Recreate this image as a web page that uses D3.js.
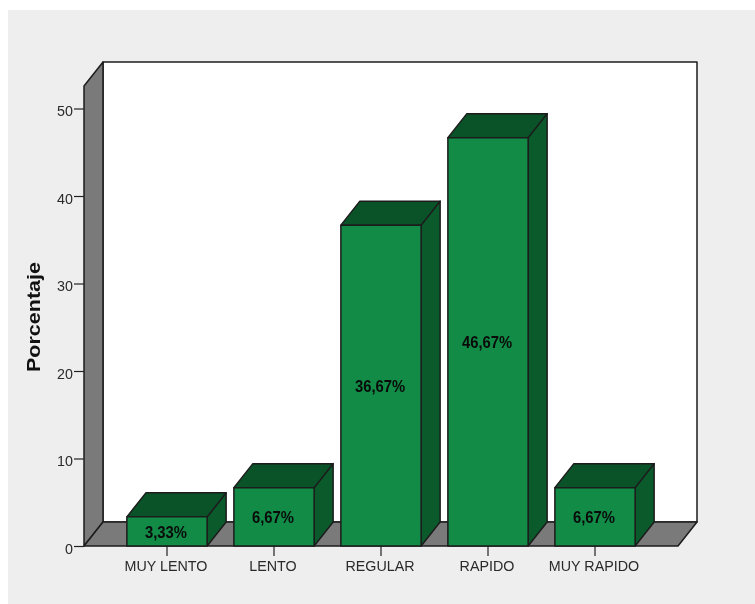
<!DOCTYPE html>
<html>
<head>
<meta charset="utf-8">
<script src="https://d3js.org/d3.v7.min.js"></script>
<style>
  html, body { margin: 0; padding: 0; background: #fff; }
  svg { display: block; filter: blur(0.35px); }
  .tick text { font-family: "Liberation Sans", Arial, sans-serif; font-size: 14.3px; fill: #2a2a2a; }
</style>
</head>
<body>
<div id="chart"></div>
<script>
// data
var categories = ["MUY LENTO", "LENTO", "REGULAR", "RAPIDO", "MUY RAPIDO"];
var percentages = [3.33, 6.67, 36.67, 46.67, 6.67];
var valueLabels = ["3,33%", "6,67%", "36,67%", "46,67%", "6,67%"];
var yTicks = [0, 10, 20, 30, 40, 50];

var width = 755, height = 604;
var plot = {left: 84, right: 678, bottom: 546, top: 86};
var depthX = 19, depthY = 24;       // shift of the back plane

var svg = d3.select("#chart")
  .append("svg")
    .attr("width", width)
    .attr("height", height);

// grey panel
svg.append("rect")
  .attr("x", 8)
  .attr("y", 10)
  .attr("width", width - 8)
  .attr("height", height - 10)
  .attr("fill", "#eeeeee");

var x = d3.scaleBand()
  .domain(categories)
  .range([113.5, 648.5])
  .paddingInner(0.25)
  .paddingOuter(0.125);

var y = d3.scaleLinear()
  .domain([0, 50])
  .range([plot.bottom, 108.5]);

function poly(points, fill) {
  svg.append("polygon")
    .attr("points", points.map(function(p) { return p.join(","); }).join(" "))
    .attr("fill", fill)
    .attr("stroke", "#1c1c1c")
    .attr("stroke-width", 1.5)
    .attr("stroke-linejoin", "round");
}

// back wall, left wall, floor
poly([[plot.left + depthX, plot.top - depthY], [plot.right + depthX, plot.top - depthY],
      [plot.right + depthX, plot.bottom - depthY], [plot.left + depthX, plot.bottom - depthY]], "#ffffff");
poly([[plot.left, plot.top], [plot.left + depthX, plot.top - depthY],
      [plot.left + depthX, plot.bottom - depthY], [plot.left, plot.bottom]], "#7a7a7a");
poly([[plot.left, plot.bottom], [plot.left + depthX, plot.bottom - depthY],
      [plot.right + depthX, plot.bottom - depthY], [plot.right, plot.bottom]], "#7a7a7a");

// axes
var yAxis = svg.append("g")
  .attr("transform", "translate(" + plot.left + ",0)")
  .call(d3.axisLeft(y).tickValues(yTicks).tickSize(10).tickPadding(1));
yAxis.select(".domain").remove();
yAxis.selectAll("line").attr("stroke", "#222").attr("stroke-width", 1.2);
yAxis.selectAll("text").attr("dy", "0.5em");

var xAxis = svg.append("g")
  .attr("transform", "translate(0," + plot.bottom + ")")
  .call(d3.axisBottom(x).tickSize(10).tickPadding(5));
xAxis.select(".domain").remove();
xAxis.selectAll("line").attr("stroke", "#222").attr("stroke-width", 1.2);
xAxis.selectAll("text").attr("dx", -1);

svg.append("text")
  .attr("transform", "translate(40,317) rotate(-90)")
  .attr("text-anchor", "middle")
  .attr("textLength", 110)
  .attr("lengthAdjust", "spacingAndGlyphs")
  .style("font-family", "'Liberation Sans', Arial, sans-serif")
  .style("font-size", "18px")
  .style("font-weight", "bold")
  .style("fill", "#111")
  .text("Porcentaje");

// bars
categories.forEach(function(c, i) {
  var x0 = x(c), x1 = x0 + x.bandwidth();
  var yt = y(percentages[i]), yb = y(0);
  // side
  poly([[x1, yt], [x1 + depthX, yt - depthY],
        [x1 + depthX, yb - depthY], [x1, yb]], "#0a5a2c");
  // top
  poly([[x0, yt], [x0 + depthX, yt - depthY],
        [x1 + depthX, yt - depthY], [x1, yt]], "#0a5228");
  // front
  poly([[x0, yt], [x1, yt], [x1, yb], [x0, yb]], "#118b46");

  svg.append("text")
    .attr("x", (x0 + x1) / 2 - 1)
    .attr("y", (yt + yb) / 2 + 1)
    .attr("dy", "0.35em")
    .attr("text-anchor", "middle")
    .attr("textLength", valueLabels[i].length === 6 ? 50 : 42)
    .attr("lengthAdjust", "spacingAndGlyphs")
    .style("font-family", "'Liberation Sans', Arial, sans-serif")
    .style("font-size", "16px")
    .style("font-weight", "bold")
    .style("fill", "#0a0a0a")
    .text(valueLabels[i]);
});
</script>
</body>
</html>
